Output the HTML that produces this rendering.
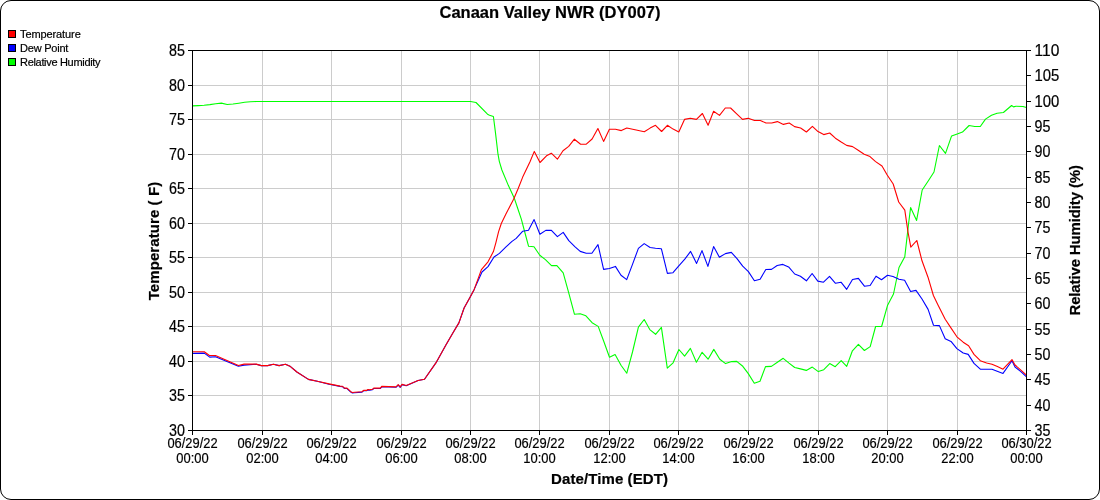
<!DOCTYPE html>
<html><head><meta charset="utf-8"><title>Canaan Valley NWR (DY007)</title>
<style>
html,body{margin:0;padding:0;background:#fff;width:1100px;height:500px;overflow:hidden}
svg{display:block}
text{font-family:'Liberation Sans', Arial, sans-serif;fill:#000;stroke:#000;stroke-width:0.2px}
</style></head><body>
<svg width="1100" height="500" viewBox="0 0 1100 500">
<rect x="0.5" y="0.5" width="1099" height="499" rx="10.5" ry="10.5" fill="#fff" stroke="#000" stroke-width="1"/>

<text x="550" y="17.7" text-anchor="middle" font-size="16.5" font-weight="bold">Canaan Valley NWR (DY007)</text>
<rect x="8.5" y="30.5" width="7" height="7" fill="#ff0000" stroke="#000" stroke-width="1"/>
<text x="20" y="38" font-size="11" textLength="60.8" lengthAdjust="spacing">Temperature</text>
<rect x="8.5" y="44.5" width="7" height="7" fill="#0000ff" stroke="#000" stroke-width="1"/>
<text x="20" y="52" font-size="11" textLength="48.4" lengthAdjust="spacing">Dew Point</text>
<rect x="8.5" y="58.5" width="7" height="7" fill="#00ff00" stroke="#000" stroke-width="1"/>
<text x="20" y="66" font-size="11" textLength="80.6" lengthAdjust="spacing">Relative Humidity</text>
<path d="M262.5,50V430M331.5,50V430M401.5,50V430M470.5,50V430M539.5,50V430M609.5,50V430M678.5,50V430M748.5,50V430M818.5,50V430M887.5,50V430M957.5,50V430M192,85.5H1026M192,119.5H1026M192,154.5H1026M192,188.5H1026M192,223.5H1026M192,257.5H1026M192,292.5H1026M192,326.5H1026M192,361.5H1026M192,395.5H1026" stroke="#cccccc" stroke-width="1" fill="none"/>
<defs><clipPath id="cp"><rect x="192" y="50" width="835" height="381"/></clipPath></defs>
<g clip-path="url(#cp)" fill="none" stroke-width="1.1" stroke-linejoin="round">
<polyline points="192.5,105.9 198.3,105.6 204.1,105.3 209.9,104.6 215.7,103.7 221.4,103.1 227.2,104.5 233.0,104.0 238.8,103.2 244.6,102.3 250.4,101.8 256.2,101.5 470.5,101.5 476.0,102.5 487.5,114.2 489.5,115.2 493.4,116.5 495.4,132.1 498.0,154.2 499.3,161.3 501.9,170.0 508.4,185.6 514.2,197.9 517.5,207.7 521.4,219.4 525.0,233.0 528.6,246.3 534.0,246.7 539.8,255.3 545.4,259.6 551.5,265.6 556.9,265.6 563.2,272.8 568.6,292.3 574.5,314.3 580.2,313.8 585.9,315.8 592.1,322.7 598.2,326.4 604.0,342.0 609.5,357.2 615.1,354.5 621.0,365.2 626.8,373.2 632.5,352.0 638.4,327.2 644.2,319.5 649.8,329.6 655.6,334.3 661.4,327.4 667.3,368.2 673.1,362.8 678.9,349.5 684.6,356.2 690.4,348.4 696.4,362.3 702.1,352.3 708.1,359.2 713.8,349.4 719.8,359.2 725.6,363.6 731.7,361.6 736.7,361.4 742.8,366.3 748.3,373.6 754.3,383.2 760.0,381.2 765.5,366.6 771.4,366.4 777.4,362.3 783.2,358.3 789.0,363.1 794.7,367.5 800.5,368.9 806.3,370.4 812.3,367.1 818.3,371.6 823.8,369.7 829.7,363.6 835.2,366.7 841.2,360.6 846.7,366.4 852.4,350.8 858.4,344.4 864.4,350.5 870.2,346.6 875.6,326.5 881.6,326.5 887.6,305.2 893.5,294.0 899.0,267.5 904.8,256.7 908.3,226.0 910.6,207.6 916.6,220.4 922.2,190.0 928.2,181.0 934.0,172.0 939.4,145.5 945.5,153.4 951.6,135.9 957.2,133.9 962.5,132.1 969.1,125.5 974.7,126.5 980.3,126.5 985.5,119.1 991.5,115.3 997.1,113.2 1003.4,112.5 1011.6,105.5 1013.5,106.9 1016.0,106.2 1023.0,106.5 1026.5,107.6" stroke="#00ff00"/>
<polyline points="192.5,353.4 204.3,353.1 209.7,357.1 215.5,356.8 238.4,366.3 244.1,365.1 256.2,364.3 261.3,365.6 267.6,365.6 273.4,364.3 279.1,365.6 285.5,364.3 290.5,366.6 296.9,372.0 308.4,379.4 317.3,381.3 329.0,384.2 340.0,386.4 342.5,386.6 344.5,388.5 347.0,388.5 350.8,392.1 352.4,392.9 354.6,392.7 362.0,392.1 363.6,390.8 366.4,390.8 368.0,389.9 369.6,390.2 372.5,389.7 373.7,388.5 380.4,388.5 381.7,386.8 396.0,387.3 398.2,385.1 400.2,387.4 402.1,384.6 406.2,385.7 418.1,380.5 424.5,379.2 435.9,362.9 445.9,345.0 453.0,332.7 458.9,322.9 464.1,308.0 470.6,296.3 474.2,289.4 482.0,272.0 488.0,266.6 494.0,257.0 499.4,253.4 506.0,246.8 512.0,241.4 516.2,238.4 522.8,231.2 528.5,230.2 534.1,219.6 539.9,234.2 545.8,230.4 551.4,230.4 557.4,236.6 563.2,232.4 568.8,240.6 574.8,246.6 580.2,251.4 586.2,253.2 591.9,253.2 598.0,244.6 603.6,269.4 609.4,268.5 615.4,266.4 621.0,275.2 626.7,279.6 632.4,264.6 638.4,248.4 644.2,243.6 650.1,247.5 655.5,248.3 661.4,248.8 667.4,273.4 673.0,272.7 678.8,265.8 684.8,259.2 690.6,251.4 696.6,263.4 702.0,250.6 707.9,266.4 713.6,246.6 719.4,257.2 725.4,253.6 731.3,252.4 737.0,258.6 742.7,266.2 748.4,271.6 754.4,280.8 760.1,279.2 765.8,269.5 771.5,269.4 777.2,265.5 782.9,264.4 788.6,266.9 794.7,274.0 800.4,276.2 806.4,280.8 812.1,273.5 817.8,281.1 823.5,282.2 829.5,276.4 835.5,283.3 841.0,282.2 846.7,289.3 852.5,279.5 858.4,278.4 864.4,286.2 870.1,285.5 876.0,276.2 881.5,279.8 887.5,275.2 893.0,276.5 899.0,279.2 904.6,280.2 910.6,291.5 916.0,290.4 922.0,299.0 928.1,309.4 933.5,325.2 939.4,325.6 945.2,338.7 951.0,341.4 956.9,348.6 963.2,353.0 968.2,354.4 974.0,363.4 980.3,369.2 992.0,369.3 1003.0,373.4 1012.0,360.8 1015.0,367.0 1020.6,371.4 1026.5,376.8" stroke="#0000ff"/>
<polyline points="192.5,351.8 204.3,351.8 209.4,355.5 215.5,355.5 238.4,365.5 244.1,364.1 256.2,364.1 261.3,365.6 267.6,365.6 273.4,364.3 279.1,365.6 285.5,364.3 290.5,366.6 296.9,372.0 308.4,379.4 317.3,381.3 329.0,383.9 340.0,386.1 342.5,386.3 344.5,388.1 347.0,388.1 350.8,391.7 352.4,392.5 354.6,392.3 362.0,391.7 363.6,390.4 366.4,390.4 368.0,389.5 369.6,389.8 372.5,389.3 373.7,388.1 380.4,388.1 381.7,386.4 396.0,386.9 398.2,384.7 400.2,386.9 402.1,384.4 406.2,385.5 418.1,380.5 424.5,379.2 435.9,362.9 445.9,345.0 453.0,332.7 458.9,322.9 464.1,308.0 470.6,296.3 474.2,289.4 481.4,269.6 488.0,261.8 493.4,251.6 495.9,242.6 498.6,231.6 501.3,223.5 505.8,214.2 513.6,199.2 518.1,188.8 522.7,177.1 530.0,161.8 534.3,151.4 540.0,162.5 546.5,155.8 551.3,153.2 557.4,159.2 563.0,150.8 568.7,146.4 574.4,139.2 580.6,144.2 586.3,144.2 592.1,139.0 597.9,128.5 603.6,141.4 609.4,129.3 615.5,129.3 621.3,130.6 626.8,128.0 632.7,129.3 644.3,131.8 650.1,128.1 655.5,125.3 661.6,131.5 667.4,125.3 673.1,129.1 678.8,131.9 684.5,119.4 690.3,118.2 696.4,119.4 702.4,113.5 708.1,125.3 713.6,111.3 719.5,115.4 725.3,108.0 730.6,108.0 736.7,113.8 742.5,119.4 748.2,118.2 754.5,120.5 760.3,120.5 766.0,123.0 771.7,123.0 777.4,121.6 783.4,124.4 789.2,123.0 794.6,126.6 800.6,128.0 806.4,132.0 812.4,126.4 818.0,131.6 823.7,134.6 829.7,133.0 835.4,138.2 840.8,141.8 846.6,145.4 852.6,146.6 858.2,150.2 864.2,154.2 870.0,156.6 875.6,161.6 882.0,166.0 887.2,175.0 893.2,184.0 898.7,202.0 904.8,210.1 908.0,232.0 910.8,247.2 916.8,240.5 922.0,260.8 928.0,277.2 933.4,295.5 938.0,304.9 945.2,319.3 950.6,327.4 956.9,336.8 963.2,342.2 968.6,345.8 974.0,354.4 980.3,360.7 986.6,363.0 992.0,364.3 997.4,366.6 1003.0,369.2 1012.0,359.6 1015.0,365.0 1020.6,369.8 1026.5,375.2" stroke="#ff0000"/>
</g>
<path d="M192.5,50V431M1026.5,50V431M192,50.5H1027M192,430.5H1027M188,50.5H192M188,85.5H192M188,119.5H192M188,154.5H192M188,188.5H192M188,223.5H192M188,257.5H192M188,292.5H192M188,326.5H192M188,361.5H192M188,395.5H192M188,430.5H192M1027,50.5H1031M1027,75.5H1031M1027,101.5H1031M1027,126.5H1031M1027,151.5H1031M1027,177.5H1031M1027,202.5H1031M1027,227.5H1031M1027,253.5H1031M1027,278.5H1031M1027,303.5H1031M1027,329.5H1031M1027,354.5H1031M1027,379.5H1031M1027,405.5H1031M1027,430.5H1031M192.5,431V435M262.5,431V435M331.5,431V435M401.5,431V435M470.5,431V435M539.5,431V435M609.5,431V435M678.5,431V435M748.5,431V435M818.5,431V435M887.5,431V435M957.5,431V435M1026.5,431V435" stroke="#000" stroke-width="1" fill="none"/>
<text x="185" y="56" text-anchor="end" font-size="15.8" textLength="15.9" lengthAdjust="spacingAndGlyphs">85</text>
<text x="185" y="91" text-anchor="end" font-size="15.8" textLength="15.9" lengthAdjust="spacingAndGlyphs">80</text>
<text x="185" y="125" text-anchor="end" font-size="15.8" textLength="15.9" lengthAdjust="spacingAndGlyphs">75</text>
<text x="185" y="160" text-anchor="end" font-size="15.8" textLength="15.9" lengthAdjust="spacingAndGlyphs">70</text>
<text x="185" y="194" text-anchor="end" font-size="15.8" textLength="15.9" lengthAdjust="spacingAndGlyphs">65</text>
<text x="185" y="229" text-anchor="end" font-size="15.8" textLength="15.9" lengthAdjust="spacingAndGlyphs">60</text>
<text x="185" y="263" text-anchor="end" font-size="15.8" textLength="15.9" lengthAdjust="spacingAndGlyphs">55</text>
<text x="185" y="298" text-anchor="end" font-size="15.8" textLength="15.9" lengthAdjust="spacingAndGlyphs">50</text>
<text x="185" y="332" text-anchor="end" font-size="15.8" textLength="15.9" lengthAdjust="spacingAndGlyphs">45</text>
<text x="185" y="367" text-anchor="end" font-size="15.8" textLength="15.9" lengthAdjust="spacingAndGlyphs">40</text>
<text x="185" y="401" text-anchor="end" font-size="15.8" textLength="15.9" lengthAdjust="spacingAndGlyphs">35</text>
<text x="185" y="436" text-anchor="end" font-size="15.8" textLength="15.9" lengthAdjust="spacingAndGlyphs">30</text>
<text x="1034.5" y="56" font-size="15.8" textLength="24.8" lengthAdjust="spacingAndGlyphs">110</text>
<text x="1034.5" y="81" font-size="15.8" textLength="24.8" lengthAdjust="spacingAndGlyphs">105</text>
<text x="1034.5" y="107" font-size="15.8" textLength="24.8" lengthAdjust="spacingAndGlyphs">100</text>
<text x="1034.5" y="132" font-size="15.8" textLength="15.9" lengthAdjust="spacingAndGlyphs">95</text>
<text x="1034.5" y="157" font-size="15.8" textLength="15.9" lengthAdjust="spacingAndGlyphs">90</text>
<text x="1034.5" y="183" font-size="15.8" textLength="15.9" lengthAdjust="spacingAndGlyphs">85</text>
<text x="1034.5" y="208" font-size="15.8" textLength="15.9" lengthAdjust="spacingAndGlyphs">80</text>
<text x="1034.5" y="233" font-size="15.8" textLength="15.9" lengthAdjust="spacingAndGlyphs">75</text>
<text x="1034.5" y="259" font-size="15.8" textLength="15.9" lengthAdjust="spacingAndGlyphs">70</text>
<text x="1034.5" y="284" font-size="15.8" textLength="15.9" lengthAdjust="spacingAndGlyphs">65</text>
<text x="1034.5" y="309" font-size="15.8" textLength="15.9" lengthAdjust="spacingAndGlyphs">60</text>
<text x="1034.5" y="335" font-size="15.8" textLength="15.9" lengthAdjust="spacingAndGlyphs">55</text>
<text x="1034.5" y="360" font-size="15.8" textLength="15.9" lengthAdjust="spacingAndGlyphs">50</text>
<text x="1034.5" y="385" font-size="15.8" textLength="15.9" lengthAdjust="spacingAndGlyphs">45</text>
<text x="1034.5" y="411" font-size="15.8" textLength="15.9" lengthAdjust="spacingAndGlyphs">40</text>
<text x="1034.5" y="436" font-size="15.8" textLength="15.9" lengthAdjust="spacingAndGlyphs">35</text>
<text x="192.5" y="447.7" text-anchor="middle" font-size="14" textLength="50.2" lengthAdjust="spacingAndGlyphs">06/29/22</text>
<text x="192.5" y="462.8" text-anchor="middle" font-size="14" textLength="32.4" lengthAdjust="spacingAndGlyphs">00:00</text>
<text x="262.5" y="447.7" text-anchor="middle" font-size="14" textLength="50.2" lengthAdjust="spacingAndGlyphs">06/29/22</text>
<text x="262.5" y="462.8" text-anchor="middle" font-size="14" textLength="32.4" lengthAdjust="spacingAndGlyphs">02:00</text>
<text x="331.5" y="447.7" text-anchor="middle" font-size="14" textLength="50.2" lengthAdjust="spacingAndGlyphs">06/29/22</text>
<text x="331.5" y="462.8" text-anchor="middle" font-size="14" textLength="32.4" lengthAdjust="spacingAndGlyphs">04:00</text>
<text x="401.5" y="447.7" text-anchor="middle" font-size="14" textLength="50.2" lengthAdjust="spacingAndGlyphs">06/29/22</text>
<text x="401.5" y="462.8" text-anchor="middle" font-size="14" textLength="32.4" lengthAdjust="spacingAndGlyphs">06:00</text>
<text x="470.5" y="447.7" text-anchor="middle" font-size="14" textLength="50.2" lengthAdjust="spacingAndGlyphs">06/29/22</text>
<text x="470.5" y="462.8" text-anchor="middle" font-size="14" textLength="32.4" lengthAdjust="spacingAndGlyphs">08:00</text>
<text x="539.5" y="447.7" text-anchor="middle" font-size="14" textLength="50.2" lengthAdjust="spacingAndGlyphs">06/29/22</text>
<text x="539.5" y="462.8" text-anchor="middle" font-size="14" textLength="32.4" lengthAdjust="spacingAndGlyphs">10:00</text>
<text x="609.5" y="447.7" text-anchor="middle" font-size="14" textLength="50.2" lengthAdjust="spacingAndGlyphs">06/29/22</text>
<text x="609.5" y="462.8" text-anchor="middle" font-size="14" textLength="32.4" lengthAdjust="spacingAndGlyphs">12:00</text>
<text x="678.5" y="447.7" text-anchor="middle" font-size="14" textLength="50.2" lengthAdjust="spacingAndGlyphs">06/29/22</text>
<text x="678.5" y="462.8" text-anchor="middle" font-size="14" textLength="32.4" lengthAdjust="spacingAndGlyphs">14:00</text>
<text x="748.5" y="447.7" text-anchor="middle" font-size="14" textLength="50.2" lengthAdjust="spacingAndGlyphs">06/29/22</text>
<text x="748.5" y="462.8" text-anchor="middle" font-size="14" textLength="32.4" lengthAdjust="spacingAndGlyphs">16:00</text>
<text x="818.5" y="447.7" text-anchor="middle" font-size="14" textLength="50.2" lengthAdjust="spacingAndGlyphs">06/29/22</text>
<text x="818.5" y="462.8" text-anchor="middle" font-size="14" textLength="32.4" lengthAdjust="spacingAndGlyphs">18:00</text>
<text x="887.5" y="447.7" text-anchor="middle" font-size="14" textLength="50.2" lengthAdjust="spacingAndGlyphs">06/29/22</text>
<text x="887.5" y="462.8" text-anchor="middle" font-size="14" textLength="32.4" lengthAdjust="spacingAndGlyphs">20:00</text>
<text x="957.5" y="447.7" text-anchor="middle" font-size="14" textLength="50.2" lengthAdjust="spacingAndGlyphs">06/29/22</text>
<text x="957.5" y="462.8" text-anchor="middle" font-size="14" textLength="32.4" lengthAdjust="spacingAndGlyphs">22:00</text>
<text x="1026.5" y="447.7" text-anchor="middle" font-size="14" textLength="50.2" lengthAdjust="spacingAndGlyphs">06/30/22</text>
<text x="1026.5" y="462.8" text-anchor="middle" font-size="14" textLength="32.4" lengthAdjust="spacingAndGlyphs">00:00</text>
<text x="609.5" y="483.8" text-anchor="middle" font-size="15" font-weight="bold" textLength="117" lengthAdjust="spacing">Date/Time (EDT)</text>
<text transform="translate(159,241.05) rotate(-90)" text-anchor="middle" font-size="15" font-weight="bold" textLength="118.5" lengthAdjust="spacing">Temperature ( F)</text>
<text transform="translate(1080,240.3) rotate(-90)" text-anchor="middle" font-size="15" font-weight="bold" textLength="150.5" lengthAdjust="spacing">Relative Humidity (%)</text>
</svg></body></html>
